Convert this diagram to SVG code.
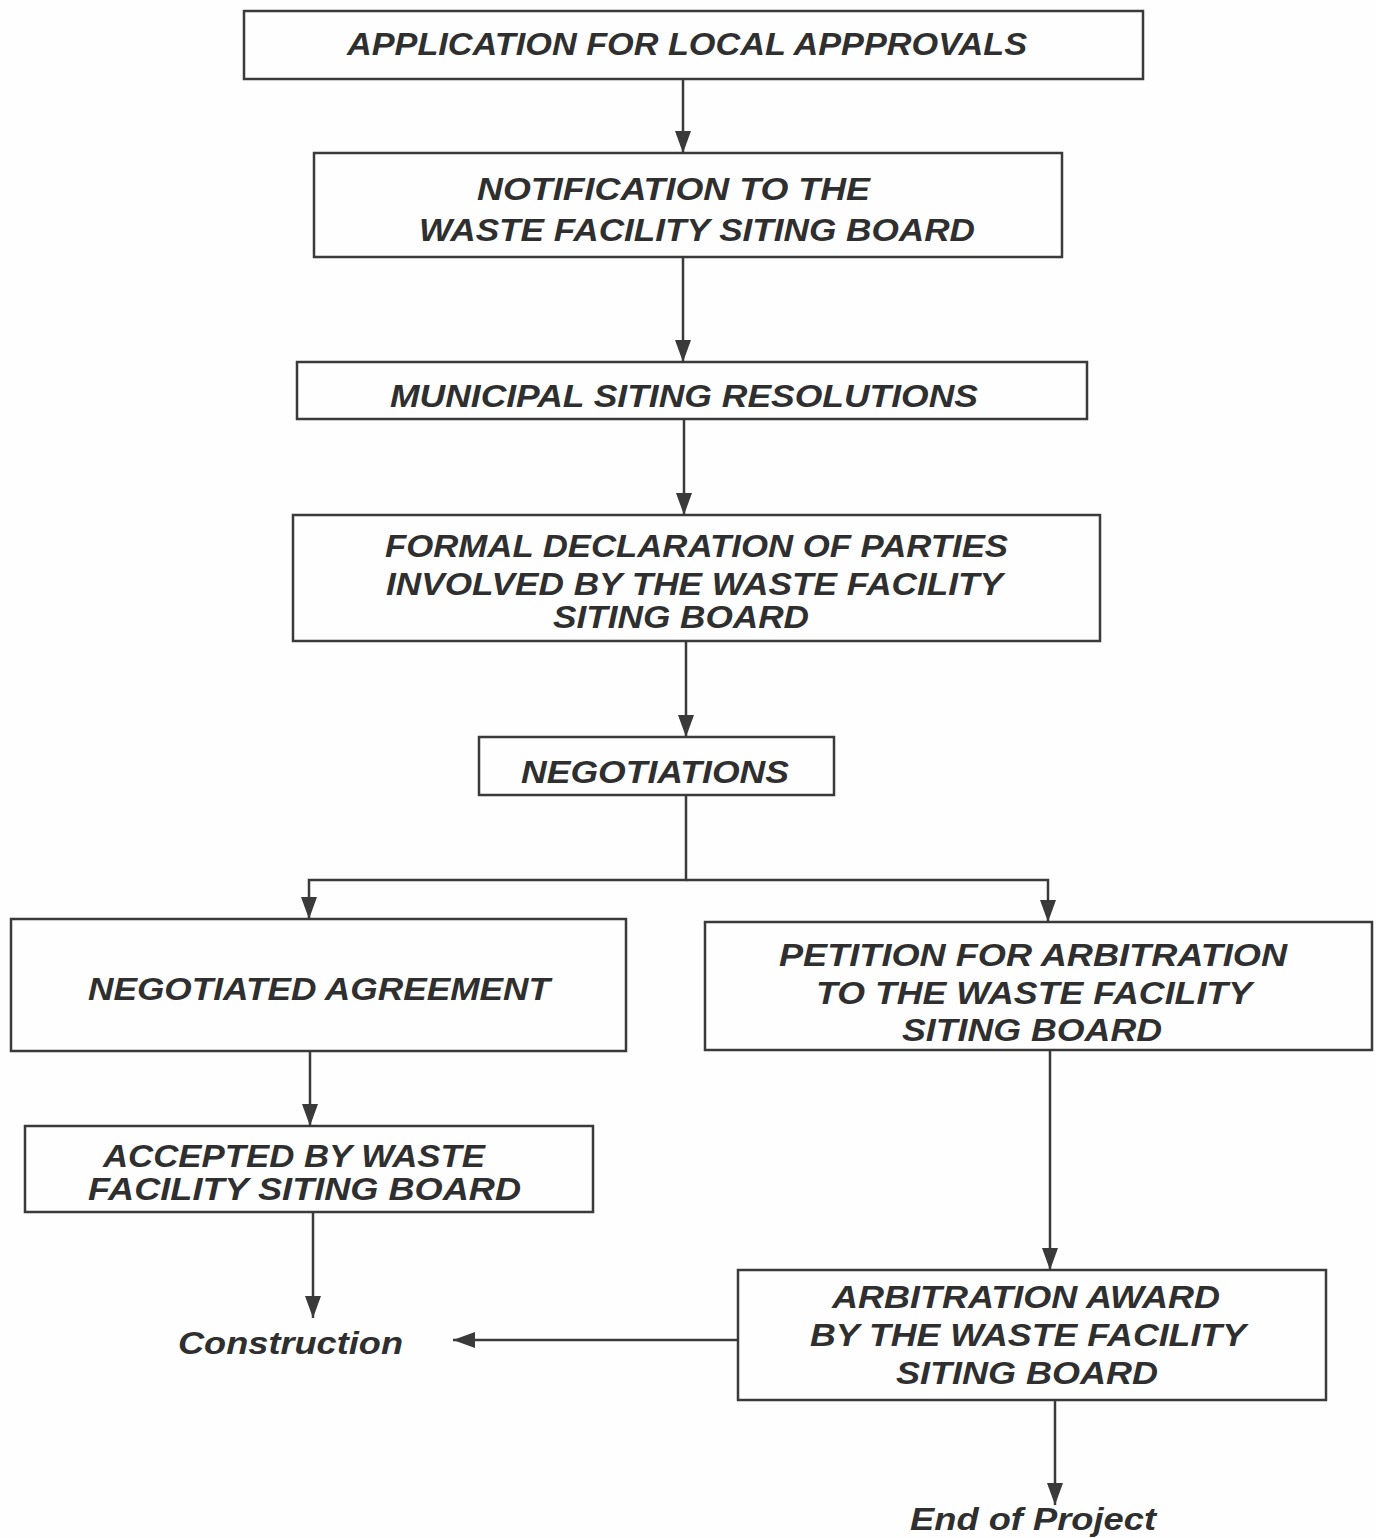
<svg xmlns="http://www.w3.org/2000/svg" width="1376" height="1538" viewBox="0 0 1376 1538">
<style>
.box{fill:none;stroke:#3a3a3a;stroke-width:2.5}
.t{font-family:"Liberation Sans",Arial,sans-serif;font-weight:bold;font-style:italic;font-size:32px;fill:#2f2f2f}
.c{fill:none;stroke:#3a3a3a;stroke-width:2.5;marker-end:url(#ah)}
</style>
<defs>
<marker id="ah" viewBox="0 0 22 16" refX="22" refY="8" markerWidth="22" markerHeight="16" markerUnits="userSpaceOnUse" orient="auto">
<path d="M0,0 L22,8 L0,16 Z" fill="#3a3a3a"/>
</marker>
</defs>
<rect width="1376" height="1538" fill="#fefefe"/>
<g id="connectors">
<path class="c" d="M683,79 V153"/>
<path class="c" d="M683,257 V362"/>
<path class="c" d="M684,419 V515"/>
<path class="c" d="M686,641 V737"/>
<path class="c" d="M686,795 V880 H309 V919"/>
<path class="c" d="M686,880 H1048 V922"/>
<path class="c" d="M310,1051 V1126"/>
<path class="c" d="M313,1212 V1318"/>
<path class="c" d="M1050,1050 V1270"/>
<path class="c" d="M738,1340 H453"/>
<path class="c" d="M1055,1400 V1505"/>
</g>
<g id="n1">
<rect class="box" x="244" y="11" width="899" height="68"/>
<text class="t" x="347" y="55" textLength="680" lengthAdjust="spacingAndGlyphs">APPLICATION FOR LOCAL APPPROVALS</text>
</g>
<g id="n2">
<rect class="box" x="314" y="153" width="748" height="104"/>
<text class="t" x="477" y="200" textLength="393" lengthAdjust="spacingAndGlyphs">NOTIFICATION TO THE</text>
<text class="t" x="419" y="241" textLength="556" lengthAdjust="spacingAndGlyphs">WASTE FACILITY SITING BOARD</text>
</g>
<g id="n3">
<rect class="box" x="297" y="362" width="790" height="57"/>
<text class="t" x="390" y="407" textLength="588" lengthAdjust="spacingAndGlyphs">MUNICIPAL SITING RESOLUTIONS</text>
</g>
<g id="n4">
<rect class="box" x="293" y="515" width="807" height="126"/>
<text class="t" x="385" y="557" textLength="623" lengthAdjust="spacingAndGlyphs">FORMAL DECLARATION OF PARTIES</text>
<text class="t" x="386" y="595" textLength="617" lengthAdjust="spacingAndGlyphs">INVOLVED BY THE WASTE FACILITY</text>
<text class="t" x="553" y="628" textLength="256" lengthAdjust="spacingAndGlyphs">SITING BOARD</text>
</g>
<g id="n5">
<rect class="box" x="479" y="737" width="355" height="58"/>
<text class="t" x="521" y="783" textLength="268" lengthAdjust="spacingAndGlyphs">NEGOTIATIONS</text>
</g>
<g id="n6">
<rect class="box" x="11" y="919" width="615" height="132"/>
<text class="t" x="88" y="1000" textLength="462" lengthAdjust="spacingAndGlyphs">NEGOTIATED AGREEMENT</text>
</g>
<g id="n7">
<rect class="box" x="705" y="922" width="667" height="128"/>
<text class="t" x="779" y="966" textLength="508" lengthAdjust="spacingAndGlyphs">PETITION FOR ARBITRATION</text>
<text class="t" x="816" y="1004" textLength="436" lengthAdjust="spacingAndGlyphs">TO THE WASTE FACILITY</text>
<text class="t" x="902" y="1041" textLength="260" lengthAdjust="spacingAndGlyphs">SITING BOARD</text>
</g>
<g id="n8">
<rect class="box" x="25" y="1126" width="568" height="86"/>
<text class="t" x="103" y="1167" textLength="382" lengthAdjust="spacingAndGlyphs">ACCEPTED BY WASTE</text>
<text class="t" x="88" y="1200" textLength="433" lengthAdjust="spacingAndGlyphs">FACILITY SITING BOARD</text>
</g>
<g id="n9">
<rect class="box" x="738" y="1270" width="588" height="130"/>
<text class="t" x="832" y="1308" textLength="388" lengthAdjust="spacingAndGlyphs">ARBITRATION AWARD</text>
<text class="t" x="810" y="1346" textLength="436" lengthAdjust="spacingAndGlyphs">BY THE WASTE FACILITY</text>
<text class="t" x="896" y="1384" textLength="262" lengthAdjust="spacingAndGlyphs">SITING BOARD</text>
</g>
<g id="n10">
<text class="t" x="178" y="1354" textLength="225" lengthAdjust="spacingAndGlyphs">Construction</text>
</g>
<g id="n11">
<text class="t" x="910" y="1530" textLength="246" lengthAdjust="spacingAndGlyphs">End of Project</text>
</g>
</svg>
